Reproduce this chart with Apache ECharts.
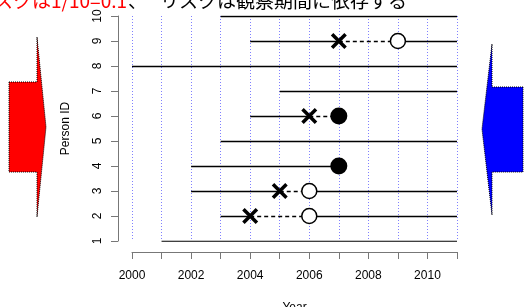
<!DOCTYPE html>
<html>
<head>
<meta charset="utf-8">
<script src="https://cdn.jsdelivr.net/npm/echarts@6/dist/echarts.min.js"></script>
<style>
  html, body { margin: 0; padding: 0; background: #fff; }
  #main { width: 525px; height: 307px; }
</style>
</head>
<body>
<div id="main"></div>
<script>
// person rows, follow-up years
var personIds    = [1, 2, 3, 4, 5, 6, 7, 8, 9, 10];
var entryYear    = [2001, 2003, 2002, 2002, 2003, 2004, 2005, 2000, 2004, 2003];
var exitYear     = [2011, 2011, 2011, 2007, 2011, 2007, 2011, 2011, 2011, 2011];
var exposureYear = [null, 2004, 2005, null, null, 2006, null, null, 2007, null];
var onsetYear    = [null, 2006, 2006, 2007, null, 2007, null, null, 2009, null];

var xTicks = [2000, 2001, 2002, 2003, 2004, 2005, 2006, 2007, 2008, 2009, 2010, 2011];
var yTicks = [1, 2, 3, 4, 5, 6, 7, 8, 9, 10];

var solid = [], dashed = [], crosses = [], openPts = [], filledPts = [];
for (var i = 0; i < personIds.length; i++) {
    var y = personIds[i];
    var start = entryYear[i];
    var ex = exposureYear[i], on = onsetYear[i], end = exitYear[i];
    var firstStop = ex != null ? ex : (on != null ? on : end);
    solid.push({coords: [[start, y], [firstStop, y]]});
    if (ex != null) {
        crosses.push([ex, y]);
        dashed.push({coords: [[ex, y], [on, y]]});
    }
    if (on != null) {
        if (on < end) {
            solid.push({coords: [[on, y], [end, y]]});
            openPts.push([on, y]);
        } else {
            filledPts.push([on, y]);
        }
    }
}

var crossPath = 'path://M2.5,0 L8,5.5 L13.5,0 L16,2.5 L10.5,8 L16,13.5 L13.5,16 L8,10.5 L2.5,16 L0,13.5 L5.5,8 L0,2.5 Z';

var chart = echarts.init(document.getElementById('main'));
chart.setOption({
    animation: false,
    backgroundColor: '#fff',
    textStyle: {fontFamily: 'Liberation Sans'},
    grid: {left: 132, right: 68, top: 16, bottom: 66, outerBoundsMode: 'none'},
    xAxis: {
        type: 'value', min: 2000, max: 2011, interval: 1,
        offset: 11,
        name: 'Year', nameLocation: 'middle', nameGap: 50,
        nameTextStyle: {fontSize: 12, color: '#000'},
        axisLine: {lineStyle: {color: '#777', width: 1}},
        axisTick: {length: 7, lineStyle: {color: '#777'}},
        axisLabel: {
            fontSize: 12, color: '#000', margin: 18,
            formatter: function (v) { return v % 2 === 0 && v < 2011 ? String(v) : ''; }
        },
        splitLine: {show: true, lineStyle: {color: '#8080ff', type: [1, 2], width: 1}}
    },
    yAxis: {
        type: 'value', min: 1, max: 10, interval: 1,
        offset: 14,
        name: 'Person ID', nameLocation: 'middle', nameGap: 46,
        nameTextStyle: {fontSize: 12, color: '#000'},
        axisLine: {show: true, lineStyle: {color: '#777', width: 1}},
        axisTick: {show: true, length: 7, lineStyle: {color: '#777'}},
        axisLabel: {fontSize: 12, color: '#000', rotate: 90, margin: 14},
        splitLine: {show: false}
    },
    graphic: [
        {
            type: 'polygon',
            shape: {points: [[9, 82], [37, 82], [37, 37], [46, 127], [37, 217], [37, 172], [9, 172]]},
            style: {fill: '#ff0000', stroke: '#000', lineWidth: 1, lineDash: [1, 1]}
        },
        {
            type: 'polygon',
            shape: {points: [[523, 87], [492, 87], [492, 44], [482, 129], [492, 215], [492, 172], [523, 172]]},
            style: {fill: '#0000ff', stroke: '#000', lineWidth: 1, lineDash: [1, 1]}
        },
        {
            type: 'text', x: 127, y: 1,
            style: {
                text: 'リスクは1/10=0.1', fill: '#ff0000', align: 'right', verticalAlign: 'middle',
                font: '19px "Noto Sans CJK JP"'
            }
        },
        {
            type: 'text', x: 128, y: 1,
            style: {
                text: '、', fill: '#000', align: 'left', verticalAlign: 'middle',
                font: '19px "Noto Sans CJK JP"'
            }
        },
        {
            type: 'text', x: 160, y: 1,
            style: {
                text: 'リスクは観察期間に依存する', fill: '#000', align: 'left', verticalAlign: 'middle',
                font: '19px "Noto Sans CJK JP"'
            }
        }
    ],
    series: [
        {
            type: 'lines', coordinateSystem: 'cartesian2d', silent: true,
            lineStyle: {color: '#000', width: 1.3, opacity: 1},
            data: solid, z: 3
        },
        {
            type: 'lines', coordinateSystem: 'cartesian2d', silent: true,
            lineStyle: {color: '#000', width: 1.3, opacity: 1, type: [4, 3]},
            data: dashed, z: 3
        },
        {
            type: 'scatter', symbol: 'circle', symbolSize: 15,
            itemStyle: {color: '#fff', borderColor: '#000', borderWidth: 1.5, opacity: 1},
            data: openPts, z: 5
        },
        {
            type: 'scatter', symbol: 'circle', symbolSize: 17,
            itemStyle: {color: '#000', opacity: 1},
            data: filledPts, z: 5
        },
        {
            type: 'scatter', symbol: crossPath, symbolSize: 16,
            itemStyle: {color: '#000', opacity: 1},
            data: crosses, z: 5
        }
    ]
});
</script>
</body>
</html>
